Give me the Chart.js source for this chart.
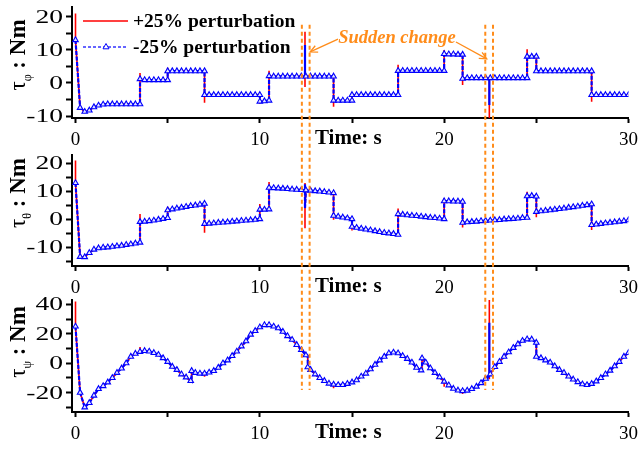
<!DOCTYPE html>
<html><head><meta charset="utf-8">
<script src="https://cdn.jsdelivr.net/npm/chart.js@4.4.1/dist/chart.umd.min.js"></script>
<style>
html,body{margin:0;padding:0;background:#fff;}
#wrap{position:relative;width:644px;height:450px;overflow:hidden;}
canvas{position:absolute;left:0;top:0;}
</style></head><body>
<div id="wrap">
<canvas id="c1" width="644" height="450"></canvas>
<canvas id="c2" width="644" height="450"></canvas>
<canvas id="c3" width="644" height="450"></canvas>
</div>
<script>
// ---------- DATA ----------
const phiTime = [0,0.25,0.5,0.75,1,1.25,1.5,1.75,2,2.25,2.5,2.75,3,3.25,3.5,
  3.5,3.75,4,4.25,4.5,4.75,5,
  5,5.25,5.5,5.75,6,6.25,6.5,6.75,7,
  7,7.25,7.5,7.75,8,8.25,8.5,8.75,9,9.25,9.5,9.75,10,
  10,10.25,10.5,
  10.5,10.75,11,11.25,11.5,11.75,12,12.25,12.45,12.45,12.45,12.5,12.75,13,13.25,13.5,13.75,14,
  14,14.25,14.5,14.75,15,
  15,15.25,15.5,15.75,16,16.25,16.5,16.75,17,17.25,17.5,
  17.5,17.75,18,18.25,18.5,18.75,19,19.25,19.5,19.75,20,
  20,20.25,20.5,20.75,21,
  21,21.25,21.5,21.75,22,22.25,22.45,22.45,22.45,22.5,22.75,23,23.25,23.5,23.75,24,24.25,24.5,
  24.5,24.75,25,
  25,25.25,25.5,25.75,26,26.25,26.5,26.75,27,27.25,27.5,27.75,28,
  28,28.25,28.5,28.75,29,29.25,29.5,29.75,30];
const phiMinus = [13,-7.5,-8.7,-8.3,-7.3,-6.8,-6.5,-6.4,-6.4,-6.4,-6.4,-6.4,-6.4,-6.4,-6.4,
  1.2,0.9,0.9,0.9,0.9,0.9,0.9,
  3.6,3.6,3.6,3.6,3.6,3.6,3.6,3.6,3.6,
  -3.6,-3.6,-3.6,-3.6,-3.6,-3.6,-3.6,-3.6,-3.6,-3.6,-3.6,-3.6,-3.6,
  -5.6,-5.5,-5.3,
  2.1,2.0,2.0,2.0,2.0,2.0,2.0,2.0,2.0,11.5,2.0,2.0,2.0,2.0,2.0,2.0,2.0,2.0,
  -5.3,-5.3,-5.3,-5.3,-5.3,
  -3.6,-3.6,-3.6,-3.6,-3.6,-3.6,-3.6,-3.6,-3.6,-3.6,-3.6,
  3.7,3.7,3.7,3.7,3.7,3.7,3.7,3.7,3.7,3.7,3.7,
  8.8,8.7,8.7,8.6,8.6,
  1.3,1.5,1.5,1.5,1.5,1.5,1.5,-6.7,1.5,1.5,1.5,1.5,1.5,1.5,1.5,1.5,1.5,1.5,
  8.0,8.0,8.0,
  3.6,3.6,3.6,3.6,3.6,3.6,3.6,3.6,3.6,3.6,3.6,3.6,3.6,
  -3.6,-3.6,-3.6,-3.6,-3.6,-3.6,-3.6,-3.6,-3.6];
const phiPlusSpikes = [[0,21],[3.5,3.0],[5,4.6],[7,-6.0],[10,-6.3],[10.5,3.7],[12.45,15.5,-1.2],[14,-7.2],
  [17.5,5.5],[20,10.0],[21,-0.6],[22.45,-10.6],[24.5,10.2],[28,-5.7]];

const thetaTime = [0,0.25,0.5,0.75,1,1.25,1.5,1.75,2,2.25,2.5,2.75,3,3.25,3.5,
  3.5,3.75,4,4.25,4.5,4.75,5,
  5,5.25,5.5,5.75,6,6.25,6.5,6.75,7,
  7,7.25,7.5,7.75,8,8.25,8.5,8.75,9,9.25,9.5,9.75,10,
  10,10.25,10.5,
  10.5,10.75,11,11.25,11.5,11.75,12,12.25,12.45,12.45,12.45,12.5,12.75,13,13.25,13.5,13.75,14,
  14,14.25,14.5,14.75,15,
  15,15.25,15.5,15.75,16,16.25,16.5,16.75,17,17.25,17.5,
  17.5,17.75,18,18.25,18.5,18.75,19,19.25,19.5,19.75,20,
  20,20.25,20.5,20.75,21,
  21,21.25,21.5,21.75,22,22.25,22.5,22.75,23,23.25,23.5,23.75,24,24.25,24.5,
  24.5,24.75,25,
  25,25.25,25.5,25.75,26,26.25,26.5,26.75,27,27.25,27.5,27.75,28,
  28,28.25,28.5,28.75,29,29.25,29.5,29.75,30];
const thetaMinus = [13,-13.4,-13.5,-12,-10.8,-10.3,-10.1,-10,-9.8,-9.6,-9.4,-9.1,-8.9,-8.6,-8.3,
  -0.9,-0.8,-0.6,-0.4,-0.1,0.2,0.5,
  3.3,3.6,3.9,4.2,4.5,4.8,5.0,5.3,5.6,
  -1.6,-1.5,-1.4,-1.2,-1.1,-1.0,-0.8,-0.7,-0.5,-0.4,-0.3,-0.1,0.1,
  3.5,3.5,3.6,
  11.3,11.2,11.1,11.0,10.9,10.7,10.6,10.5,10.4,12.5,4.0,10.4,10.3,10.1,10.0,9.8,9.6,9.4,
  1.3,1.0,0.7,0.4,0.1,
  -2.6,-3.0,-3.3,-3.6,-3.9,-4.2,-4.5,-4.8,-5.0,-5.2,-5.5,
  1.9,1.7,1.5,1.3,1.2,1.0,0.8,0.6,0.5,0.3,0.1,
  6.5,6.5,6.4,6.4,6.3,
  -1.2,-1.0,-0.9,-0.8,-0.6,-0.5,-0.4,-0.3,-0.2,0,0.1,0.2,0.3,0.5,0.6,
  8.3,8.4,8.2,
  2.7,2.9,3.1,3.3,3.5,3.7,3.9,4.2,4.4,4.6,4.9,5.1,5.4,
  -2.0,-1.8,-1.6,-1.4,-1.2,-1.0,-0.8,-0.6,-0.3];
const thetaPlusSpikes = [[0,21],[3.5,1.9],[5,4.5],[7,-4.8],[10,5.5],[10.5,13.3],[12.45,13,-3.2],[14,-0.2],
  [15,-4],[17.5,3.9],[20,7.5],[21,-2.9],[24.5,9.9],[25,0.7],[28,-3.8]];

const psiTime = [0,0.25,0.5,0.75,1,1.25,1.5,1.75,2,2.25,2.5,2.75,3,3.25,3.5,3.75,4,4.25,4.5,4.75,5,5.25,5.5,5.75,6,6.25,6.3,
  6.3,6.5,6.75,7,7.25,7.5,7.75,8,8.25,8.5,8.75,9,9.25,9.5,9.75,10,10.25,10.5,10.75,11,11.25,11.5,11.75,12,12.25,12.5,12.6,
  12.6,12.75,13,13.25,13.5,13.75,14,14.25,14.5,14.75,15,15.25,15.5,15.75,16,16.25,16.5,16.75,17,17.25,17.5,17.75,18,18.25,18.5,18.75,18.8,
  18.8,19,19.25,19.5,19.75,20,20.25,20.5,20.75,21,21.25,21.5,21.75,22,22.25,22.45,22.45,22.45,22.5,22.75,23,23.25,23.5,23.75,24,24.25,24.5,24.75,25,
  25,25.25,25.5,25.75,26,26.25,26.5,26.75,27,27.25,27.5,27.75,28,28.25,28.5,28.75,29,29.25,29.5,29.75,30];
const psiMinus = [25,-20,-30,-27,-22,-17.5,-15.5,-13,-10,-6.5,-3.5,0,4.5,6.5,7.8,8.4,8,7,5.8,3.5,1,-2.3,-4.5,-7.5,-9.6,-12,-12.5,
  -5.2,-6.5,-7,-7,-6.3,-5.2,-3,0,2,5,8,11.5,15,19.5,22,24.5,26,26,25,23.8,21.5,18.5,16,12.5,9,5.5,5,
  -2.7,-4.5,-7.5,-10,-12,-13.8,-14.5,-14.8,-14.8,-14,-13,-11.5,-9,-7,-4,-1,2,4.5,6.8,7.3,6.8,5,3,0.5,-3,-4.8,-5,
  3.4,0.5,-3.4,-6.5,-9.5,-12.5,-15,-17.3,-18.5,-18.9,-18.6,-17.5,-15.9,-13.5,-10.5,-8.5,27.5,-8.5,-7.5,-2.5,1,4.5,7.5,10.5,13,15.3,16.3,16.2,14,
  4.5,3.5,2,0.5,-2,-4.5,-6.5,-9,-11,-12.8,-14.3,-14.8,-14,-12.3,-10,-7.5,-5,-2,1,4.5,7];
const psiPlusSpikes = [[0,42],[3.5,11],[7,-9.3],[10.5,28],[14,-17],[18.8,4.5],[20,-16],[21,-21],[22.45,43,-11]];

const xTickLabels = [0, 10, 20, 30];
const suddenChangeLines = [12.28, 12.7, 22.23, 22.65];
const legendLabels = ['+25% perturbation', '-25% perturbation'];

// ---------- helpers ----------
const SERIF = '"Liberation Serif", "Times New Roman", serif';
const ORANGE = '#ff8c1a';

function minusPoints(times, vals) { return times.map((t, i) => ({x: t, y: vals[i]})); }
function plusPoints(times, vals, spikes) {
  const map = new Map(spikes.map(s => [s[0], s.slice(1)]));
  const done = new Set(); const out = [];
  times.forEach((t, i) => {
    out.push({x: t, y: vals[i]});
    if (map.has(t) && !done.has(t)) {
      done.add(t);
      map.get(t).forEach(v => out.push({x: t, y: v}));
      out.push({x: t, y: vals[i]});
    }
  });
  return out;
}
function showMarker(times, i) {
  const t = times[i];
  if (Math.abs(t * 4 - Math.round(t * 4)) < 1e-9) return true;
  if (i > 0 && times[i - 1] === t && times[i + 1] !== t && !(i > 1 && times[i - 2] === t)) return true;
  return false;
}

function arrow(ctx, x1, y1, x2, y2) {
  ctx.beginPath(); ctx.moveTo(x1, y1); ctx.lineTo(x2, y2); ctx.stroke();
  const a = Math.atan2(y2 - y1, x2 - x1), L = 8, s = 0.45;
  ctx.beginPath();
  ctx.moveTo(x2 - L * Math.cos(a - s), y2 - L * Math.sin(a - s));
  ctx.lineTo(x2, y2);
  ctx.lineTo(x2 - L * Math.cos(a + s), y2 - L * Math.sin(a + s));
  ctx.stroke();
}

let topChart = null;

const deco = {
  id: 'deco',
  afterDraw(chart, args, o) {
    const ctx = chart.ctx, xs = chart.scales.x, ys = chart.scales.y, ca = chart.chartArea;
    ctx.save();
    // y tick labels (horizontally wide, as in the reference)
    ctx.fillStyle = '#000'; ctx.font = '19px ' + SERIF; ctx.textAlign = 'right'; ctx.textBaseline = 'middle';
    ys.ticks.forEach(t => {
      if (t.value % o.major === 0) {
        const y = ys.getPixelForValue(t.value);
        ctx.save(); ctx.translate(63, y + 1); ctx.scale(1.45, 1); ctx.fillText(String(t.value), 0, 0); ctx.restore();
      }
    });
    // y title
    ctx.save();
    ctx.translate(25, o.titleY); ctx.rotate(-Math.PI / 2);
    const f1 = '23px ' + SERIF, f2 = '12px ' + SERIF, f3 = 'bold 23px ' + SERIF;
    ctx.font = f1; const w1 = ctx.measureText('τ').width;
    ctx.font = f2; const w2 = ctx.measureText(o.sub).width;
    ctx.font = f3; const w3 = ctx.measureText(' : Nm').width;
    let x = -(w1 + w2 + w3) / 2;
    ctx.textAlign = 'left'; ctx.textBaseline = 'alphabetic';
    ctx.font = f1; ctx.fillText('τ', x, 0); x += w1;
    ctx.font = f2; ctx.fillText(o.sub, x, 6); x += w2;
    ctx.font = f3; ctx.fillText(' : Nm', x, 0);
    ctx.restore();
    // x title
    ctx.font = 'bold 21px ' + SERIF; ctx.textAlign = 'center'; ctx.textBaseline = 'alphabetic';
    ctx.fillText('Time: s', xs.getPixelForValue(14.8), ca.bottom + 26);
    // legend
    if (o.legend) {
      ctx.lineWidth = 1.5; ctx.strokeStyle = '#ff0000';
      ctx.beginPath(); ctx.moveTo(83, 21); ctx.lineTo(128, 21); ctx.stroke();
      ctx.strokeStyle = '#3333ff'; ctx.setLineDash([3, 2]);
      ctx.beginPath(); ctx.moveTo(83, 47); ctx.lineTo(128, 47); ctx.stroke();
      ctx.setLineDash([]);
      ctx.fillStyle = '#fff'; ctx.strokeStyle = '#0000ff'; ctx.lineWidth = 1;
      ctx.beginPath(); ctx.moveTo(106, 43.5); ctx.lineTo(109, 48.8); ctx.lineTo(103, 48.8); ctx.closePath(); ctx.fill(); ctx.stroke();
      ctx.fillStyle = '#000'; ctx.font = 'bold 19.5px ' + SERIF; ctx.textAlign = 'left'; ctx.textBaseline = 'middle';
      ctx.fillText(legendLabels[0], 133, 22);
      ctx.fillText(legendLabels[1], 133, 48);
    }
    // sudden-change overlay (drawn on the last canvas, spanning all panels)
    if (o.overlay && topChart) {
      const ty = topChart.scales.y;
      ctx.strokeStyle = ORANGE; ctx.lineWidth = 2; ctx.setLineDash([4, 3]);
      suddenChangeLines.forEach(t => {
        const px = xs.getPixelForValue(t);
        ctx.beginPath(); ctx.moveTo(px, ty.getPixelForValue(17.6)); ctx.lineTo(px, ys.getPixelForValue(-18.2)); ctx.stroke();
      });
      ctx.setLineDash([]); ctx.lineWidth = 1.3;
      arrow(ctx, xs.getPixelForValue(14.24), ty.getPixelForValue(13.3), xs.getPixelForValue(12.73), ty.getPixelForValue(9.4));
      arrow(ctx, xs.getPixelForValue(20.64), ty.getPixelForValue(12.4), xs.getPixelForValue(22.31), ty.getPixelForValue(7.3));
      ctx.fillStyle = ORANGE; ctx.font = 'italic bold 18.5px ' + SERIF; ctx.textAlign = 'center'; ctx.textBaseline = 'middle';
      ctx.fillText('Sudden change', xs.getPixelForValue(17.44), ty.getPixelForValue(13.6));
    }
    ctx.restore();
  }
};

function makeChart(id, times, minus, spikes, c) {
  return new Chart(document.getElementById(id), {
    type: 'line',
    data: {
      datasets: [
        {
          label: legendLabels[1], data: minusPoints(times, minus), order: 1,
          borderColor: '#0000ff', borderWidth: 2.2, borderDash: [4, 1.5], tension: 0,
          pointStyle: 'triangle', pointRadius: ctx => showMarker(times, ctx.dataIndex) ? 3.2 : 0,
          pointBackgroundColor: '#e6e6ff', pointBorderColor: '#0000ff', pointBorderWidth: 1.1
        },
        {
          label: legendLabels[0], data: plusPoints(times, minus, spikes), order: 2,
          borderColor: '#ff0000', borderWidth: 1.6, tension: 0, pointRadius: 0
        }
      ]
    },
    options: {
      responsive: false, animation: false, devicePixelRatio: 1,
      layout: {padding: {top: c.top, bottom: c.bottom, left: 0, right: 11}},
      plugins: {legend: {display: false}, tooltip: {enabled: false}, deco: c.deco},
      scales: {
        x: {
          type: 'linear', min: -0.19, max: 30,
          afterFit: s => { s.height = 30; },
          ticks: {stepSize: 5, includeBounds: false, autoSkip: false, maxRotation: 0, padding: 6, color: '#000',
            font: {family: SERIF, size: 19},
            callback: v => xTickLabels.includes(v) ? String(v) : ''},
          grid: {drawOnChartArea: false, drawTicks: true, tickLength: 5, tickColor: '#000', tickWidth: 2},
          border: {display: true, color: '#000', width: 2}
        },
        y: {
          min: c.min, max: c.max,
          afterFit: s => { s.width = 72; },
          ticks: {stepSize: c.step, includeBounds: false, display: false},
          grid: {drawOnChartArea: false, drawTicks: true, tickLength: 6, tickColor: '#000', tickWidth: 2},
          border: {display: true, color: '#000', width: 2}
        }
      }
    },
    plugins: [deco]
  });
}

topChart = makeChart('c1', phiTime, phiMinus, phiPlusSpikes,
  {top: 7, bottom: 302, min: -10.6, max: 23, step: 5, deco: {major: 10, sub: 'φ', titleY: 55, legend: true}});
makeChart('c2', thetaTime, thetaMinus, thetaPlusSpikes,
  {top: 155, bottom: 154, min: -16.7, max: 23, step: 5, deco: {major: 10, sub: 'θ', titleY: 193}});
makeChart('c3', psiTime, psiMinus, psiPlusSpikes,
  {top: 300, bottom: 8, min: -33.2, max: 43, step: 10, deco: {major: 20, sub: 'ψ', titleY: 342, overlay: true}});
</script>
</body></html>
